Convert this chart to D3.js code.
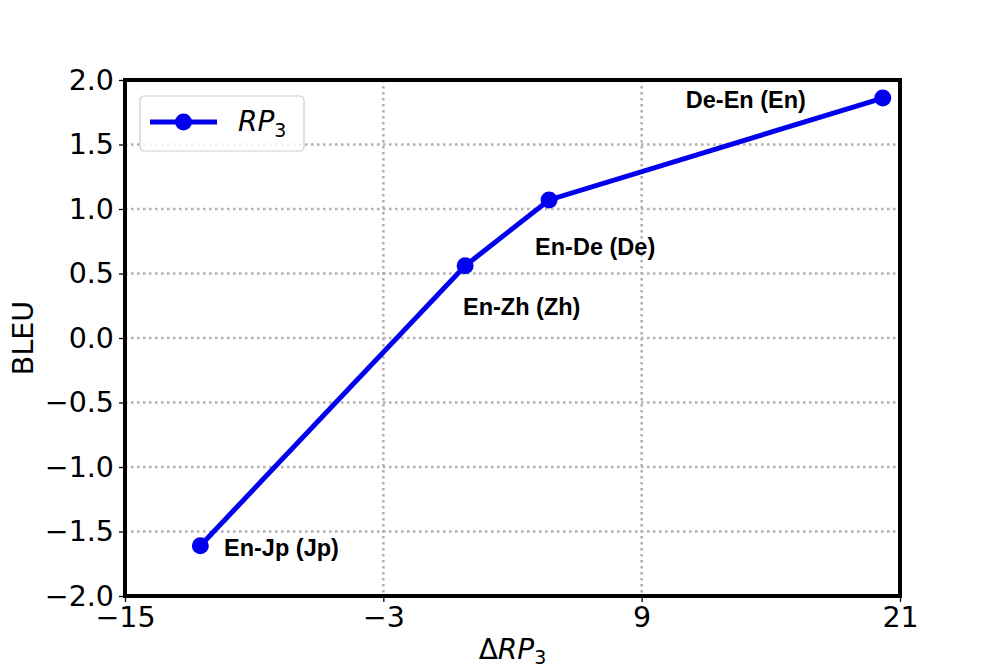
<!DOCTYPE html>
<html>
<head>
<meta charset="utf-8">
<script src="https://cdn.jsdelivr.net/npm/d3@7"></script>
<style>
  body { margin: 0; background: #fff; }
</style>
</head>
<body>
<div id="chart"></div>
<script>
// data
const pairs = ["En-Jp (Jp)", "En-Zh (Zh)", "En-De (De)", "De-En (En)"];
const deltaRP = [-11.5, 0.8, 4.7, 20.2];
const bleu = [-1.61, 0.56, 1.07, 1.86];
// where each annotation text sits, in data units
const labelX = [-10.4, 0.7, 4.05, 11.05];
const labelY = [-1.69, 0.18, 0.64, 1.78];

const xTicks = [-15, -3, 9, 21];
const yTicks = [-2, -1.5, -1, -0.5, 0, 0.5, 1, 1.5, 2];

const width = 1000,
    height = 670,
    margin = ({top: 80, right: 100, bottom: 74, left: 125});

const data = pairs.map((p, i) => ({
    name: p, x: deltaRP[i], y: bleu[i], lx: labelX[i], ly: labelY[i]
}));

let svg = d3.select("#chart")
    .append("svg")
    .attr("width", width)
    .attr("height", height)
    .style("font-family", "'DejaVu Sans', sans-serif");

let x = d3.scaleLinear()
    .domain([-15, 21])
    .range([margin.left, width - margin.right]);

let y = d3.scaleLinear()
    .domain([-2, 2])
    .range([height - margin.bottom, margin.top]);

// grid
svg.append("g")
    .selectAll("line")
    .data(yTicks.slice(1, -1))
    .join("line")
    .attr("x1", margin.left).attr("x2", width - margin.right)
    .attr("y1", d => y(d)).attr("y2", d => y(d))
    .attr("stroke", "#b0b0b0")
    .attr("stroke-width", 2.5)
    .attr("stroke-dasharray", "2.5,3.5");

svg.append("g")
    .selectAll("line")
    .data(xTicks.slice(1, -1))
    .join("line")
    .attr("y1", margin.top).attr("y2", height - margin.bottom)
    .attr("x1", d => x(d)).attr("x2", d => x(d))
    .attr("stroke", "#b0b0b0")
    .attr("stroke-width", 2.5)
    .attr("stroke-dasharray", "2.5,3.5");

const xAxis = g => g
    .attr("transform", `translate(0,${height - margin.bottom})`)
    .call(d3.axisBottom(x).tickValues(xTicks).tickFormat(d3.format("d")).tickSize(6).tickPadding(5))
    .call(g => g.select(".domain").remove());

const yAxis = g => g
    .attr("transform", `translate(${margin.left},0)`)
    .call(d3.axisLeft(y).tickValues(yTicks).tickFormat(d3.format(".1f")).tickSize(6).tickPadding(5))
    .call(g => g.select(".domain").remove());

svg.append("g").call(xAxis);
svg.append("g").call(yAxis);

svg.selectAll(".tick text")
    .style("font-family", "'DejaVu Sans', sans-serif")
    .style("font-size", "28.5px")
    .attr("fill", "#000");
svg.selectAll(".tick line")
    .attr("stroke", "#000")
    .attr("stroke-width", 1.3);

// frame
svg.append("rect")
    .attr("x", margin.left)
    .attr("y", margin.top)
    .attr("width", width - margin.left - margin.right)
    .attr("height", height - margin.top - margin.bottom)
    .attr("fill", "none")
    .attr("stroke", "#000")
    .attr("stroke-width", 4);

// line + markers
svg.append("path")
    .datum(data)
    .attr("fill", "none")
    .attr("stroke", "#0000ee")
    .attr("stroke-width", 5)
    .attr("d", d3.line().x(d => x(d.x)).y(d => y(d.y)));

svg.append("g")
    .selectAll("circle")
    .data(data)
    .join("circle")
    .attr("cx", d => x(d.x))
    .attr("cy", d => y(d.y))
    .attr("r", 8.5)
    .attr("fill", "#0000ee");

// annotations
svg.append("g")
    .selectAll("text")
    .data(data)
    .join("text")
    .attr("x", d => x(d.lx))
    .attr("y", d => y(d.ly))
    .style("font-family", "'Liberation Sans', Arial, sans-serif")
    .style("font-weight", "bold")
    .style("font-size", "23.5px")
    .attr("fill", "#000")
    .text(d => d.name);

// axis labels
svg.append("text")
    .attr("x", x(3))
    .attr("y", 659)
    .attr("text-anchor", "middle")
    .style("font-size", "28px")
    .html('Δ<tspan font-style="italic">RP</tspan><tspan font-size="19" dy="5">3</tspan>');

svg.append("text")
    .attr("transform", `translate(33,${y(0)}) rotate(-90)`)
    .attr("text-anchor", "middle")
    .style("font-size", "28.5px")
    .text("BLEU");

// legend
const lg = svg.append("g");
lg.append("rect")
    .attr("x", 140).attr("y", 96)
    .attr("width", 164).attr("height", 55)
    .attr("rx", 4)
    .attr("fill", "#fff").attr("fill-opacity", 0.8)
    .attr("stroke", "#cccccc").attr("stroke-width", 1.2);
lg.append("line")
    .attr("x1", 150).attr("x2", 217)
    .attr("y1", 122).attr("y2", 122)
    .attr("stroke", "#0000ee").attr("stroke-width", 5);
lg.append("circle")
    .attr("cx", 183.5).attr("cy", 122).attr("r", 8.5)
    .attr("fill", "#0000ee");
lg.append("text")
    .attr("x", 238).attr("y", 131)
    .style("font-size", "28px")
    .html('<tspan font-style="italic">RP</tspan><tspan font-size="19" dy="6">3</tspan>');
</script>
</body>
</html>
